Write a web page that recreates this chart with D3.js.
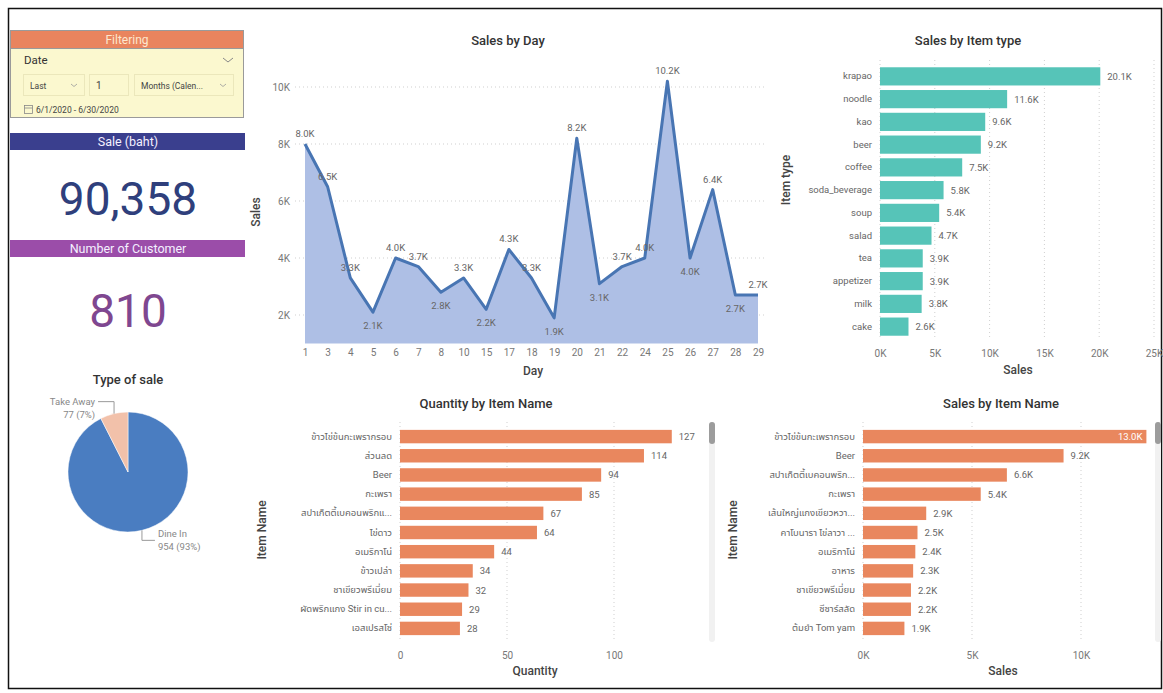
<!DOCTYPE html>
<html>
<head>
<meta charset="utf-8">
<script src="https://cdn.jsdelivr.net/npm/d3@7"></script>
<style>
  body { margin: 0; background: #fff; }
  svg text { font-family: Roboto, "Noto Sans Thai", "Noto Sans", "DejaVu Sans", sans-serif; }
</style>
</head>
<body>
<svg id="dash" width="1163" height="693"></svg>
<script>
// ---- Dashboard data ----
const totalSales = 90358;
const customerCount = 810;

const saleTypes = ["Dine In", "Take Away"];
const saleTypeCounts = [954, 77];

const days = ["1","3","4","5","6","7","8","10","15","17","18","19","20","21","22","24","25","26","27","28","29"];
const daySales = [8000,6500,3300,2100,4000,3700,2800,3300,2200,4300,3300,1900,8200,3100,3700,4000,10200,4000,6400,2700,2700];
const daySalesTicks = [2000,4000,6000,8000,10000];

const itemTypes = ["krapao","noodle","kao","beer","coffee","soda_beverage","soup","salad","tea","appetizer","milk","cake"];
const itemTypeSales = [20100,11600,9600,9200,7500,5800,5400,4700,3900,3900,3800,2600];
const itemTypeTicks = [0,5000,10000,15000,20000,25000];

const qtyItemNames = ["ข้าวไข่ข้นกะเพรากรอบ","ส่วนลด","Beer","กะเพรา","สปาเก็ตตี้เบคอนพริกแ...","ไข่ดาว","อเมริกาโน่","ข้าวเปล่า","ชาเขียวพรีเมี่ยม","ผัดพริกแกง Stir in cu...","เอสเปรสโซ่"];
const qtyValues = [127,114,94,85,67,64,44,34,32,29,28];
const qtyTicks = [0,50,100];

const salesItemNames = ["ข้าวไข่ข้นกะเพรากรอบ","Beer","สปาเก็ตตี้เบคอนพริก...","กะเพรา","เส้นใหญ่แกงเขียวหวา...","คาโบนารา ไข่ลาวา ...","อเมริกาโน่","อาหาร","ชาเขียวพรีเมี่ยม","ซีซาร์สลัด","ต้มยำ Tom yam"];
const salesItemValues = [13000,9200,6600,5400,2900,2500,2400,2300,2200,2200,1900];
const salesItemTicks = [0,5000,10000];

// ---- Helpers ----
const svg = d3.select("#dash");
const kFmt = v => d3.format(".1f")(v / 1000) + "K";
const kTick = v => (v / 1000) + "K";
const TITLE = "#333";
const TICK = "#777";
const LABEL = "#666";
const GRID = "#cfcfcf";

// page frame
svg.append("rect").attr("x", 8.5).attr("y", 8.5).attr("width", 1153).attr("height", 680)
  .attr("fill", "none").attr("stroke", "#111").attr("stroke-width", 1.5);

function title(x, y, text, size) {
  svg.append("text").attr("x", x).attr("y", y).attr("text-anchor", "middle")
    .attr("font-size", size || 13).attr("font-weight", 500).attr("fill", TITLE).text(text);
}

// ---- Filtering panel ----
const fp = svg.append("g");
fp.append("rect").attr("x", 10.5).attr("y", 30.5).attr("width", 233).attr("height", 87)
  .attr("fill", "#fbf8cf").attr("stroke", "#9a9a9a");
fp.append("rect").attr("x", 10.5).attr("y", 30.5).attr("width", 233).attr("height", 18)
  .attr("fill", "#e9845e").attr("stroke", "#9a9a9a");
fp.append("text").attr("x", 127).attr("y", 44).attr("text-anchor", "middle")
  .attr("font-size", 12).attr("fill", "#fde7cf").text("Filtering");
fp.append("text").attr("x", 24).attr("y", 64).attr("font-size", 11.5).attr("fill", "#333").text("Date");
fp.append("path").attr("d", "M223,58 l5,4 l5,-4").attr("fill", "none").attr("stroke", "#888").attr("stroke-width", 1);
const boxes = [[23, 61, "Last"], [89, 39, "1"], [134, 99, "Months (Calen..."]];
boxes.forEach(([bx, bw, t], i) => {
  fp.append("rect").attr("x", bx + 0.5).attr("y", 74.5).attr("width", bw).attr("height", 21)
    .attr("fill", "none").attr("stroke", "#ebe7bb");
  fp.append("text").attr("x", bx + 7).attr("y", 88.5).attr("font-size", i === 1 ? 10 : 8.5)
    .attr("fill", "#444").text(t);
  if (i !== 1) {
    fp.append("path").attr("d", `M${bx + bw - 13},84 l3,2.5 l3,-2.5`).attr("fill", "none")
      .attr("stroke", "#999").attr("stroke-width", 0.8);
  }
});
fp.append("rect").attr("x", 24.5).attr("y", 105.5).attr("width", 8).attr("height", 8)
  .attr("fill", "none").attr("stroke", "#888").attr("stroke-width", 0.8);
fp.append("line").attr("x1", 24.5).attr("x2", 32.5).attr("y1", 108).attr("y2", 108).attr("stroke", "#888").attr("stroke-width", 0.8);
fp.append("text").attr("x", 36).attr("y", 113).attr("font-size", 8.5).attr("fill", "#444")
  .text("6/1/2020 - 6/30/2020");

// ---- KPI cards ----
function kpi(y, h, bandColor, label, value, valueColor, valueY) {
  svg.append("rect").attr("x", 10).attr("y", y).attr("width", 235).attr("height", h).attr("fill", bandColor);
  svg.append("text").attr("x", 128).attr("y", y + h - 4).attr("text-anchor", "middle")
    .attr("font-size", 12.5).attr("fill", "#f4f0ff").text(label);
  svg.append("text").attr("x", 128).attr("y", valueY).attr("text-anchor", "middle")
    .attr("font-size", 46).attr("font-weight", 400).attr("fill", valueColor).text(value);
}
kpi(133, 17, "#3a3f8e", "Sale (baht)", d3.format(",")(totalSales), "#2f3f7c", 215);
kpi(240, 17, "#9b4da9", "Number of Customer", d3.format(",")(customerCount), "#7f4790", 327);

// ---- Type of sale (pie) ----
title(128, 384, "Type of sale", 13);
const pieData = d3.pie().sort(null)(saleTypeCounts);
const pieR = 60, pcx = 128, pcy = 472;
const pieColors = ["#4a7dc1", "#f2c1aa"];
const arc = d3.arc().innerRadius(0).outerRadius(pieR);
const pg = svg.append("g").attr("transform", `translate(${pcx},${pcy})`);
pg.selectAll("path").data(pieData).join("path").attr("d", arc)
  .attr("fill", (d, i) => pieColors[i]).attr("stroke", "#fff").attr("stroke-width", 0.5);
const total = d3.sum(saleTypeCounts);
pieData.forEach((d, i) => {
  const a = (d.startAngle + d.endAngle) / 2;
  const px = Math.sin(a) * pieR, py = -Math.cos(a) * pieR;
  const up = py < 0, right = px > 0;
  const ey = py + (up ? -12 : 10);
  const ex = px + (right ? 13 : -16);
  pg.append("path").attr("d", `M${px},${py} L${px},${ey} L${ex},${ey}`)
    .attr("fill", "none").attr("stroke", "#999").attr("stroke-width", 1);
  const tx = ex + (right ? 3 : -3);
  const anchor = right ? "start" : "end";
  const pct = Math.round(saleTypeCounts[i] / total * 100);
  const t1y = up ? ey + 3 : ey - 3;
  pg.append("text").attr("x", tx).attr("y", t1y).attr("text-anchor", anchor)
    .attr("font-size", 9.5).attr("fill", "#888").text(saleTypes[i]);
  pg.append("text").attr("x", tx).attr("y", t1y + 13).attr("text-anchor", anchor)
    .attr("font-size", 9.5).attr("fill", "#888").text(`${saleTypeCounts[i]} (${pct}%)`);
});

// ---- Sales by Day (area line) ----
title(508, 45, "Sales by Day", 13);
const xDay = d3.scalePoint().domain(days).range([305, 758]);
const yDay = d3.scaleLinear().domain([1000, 10000]).range([343.5, 87]);
const dg = svg.append("g");
daySalesTicks.forEach(t => {
  dg.append("line").attr("x1", 295).attr("x2", 766).attr("y1", yDay(t)).attr("y2", yDay(t))
    .attr("stroke", GRID).attr("stroke-dasharray", "1,3");
});
const yAxisDay = d3.axisLeft(yDay).tickValues(daySalesTicks).tickFormat(kTick).tickSize(0).tickPadding(0);
dg.append("g").attr("transform", "translate(290,0)").call(yAxisDay)
  .call(g => g.select(".domain").remove())
  .call(g => g.selectAll("text").attr("font-size", 10).attr("fill", TICK).attr("font-family", null));
const xAxisDay = d3.axisBottom(xDay).tickSize(0).tickPadding(0);
dg.append("g").attr("transform", "translate(0,349)").call(xAxisDay)
  .call(g => g.select(".domain").remove())
  .call(g => g.selectAll("text").attr("font-size", 10).attr("fill", TICK).attr("font-family", null));
const dayPts = days.map((d, i) => [d, daySales[i]]);
dg.append("path").datum(dayPts)
  .attr("d", d3.area().x(d => xDay(d[0])).y0(yDay(1000)).y1(d => yDay(d[1])))
  .attr("fill", "#aebfe5");
dg.append("path").datum(dayPts)
  .attr("d", d3.line().x(d => xDay(d[0])).y(d => yDay(d[1])))
  .attr("fill", "none").attr("stroke", "#4875b3").attr("stroke-width", 3).attr("stroke-linejoin", "round");
dayPts.forEach((d, i) => {
  const prev = i > 0 ? daySales[i - 1] : -Infinity;
  const next = i < daySales.length - 1 ? daySales[i + 1] : -Infinity;
  const isMin = d[1] <= prev && d[1] <= next && i > 0;
  dg.append("text").attr("x", xDay(d[0])).attr("y", yDay(d[1]) + (isMin ? 17 : -7))
    .attr("text-anchor", "middle").attr("font-size", 9.5).attr("fill", LABEL).text(kFmt(d[1]));
});
dg.append("text").attr("x", 533).attr("y", 375).attr("text-anchor", "middle")
  .attr("font-size", 12).attr("font-weight", 500).attr("fill", "#444").text("Day");
dg.append("text").attr("transform", "translate(260,212) rotate(-90)").attr("text-anchor", "middle")
  .attr("font-size", 12).attr("font-weight", 500).attr("fill", "#444").text("Sales");

// ---- Horizontal bar chart builder ----
function hbar(opts) {
  const g = svg.append("g");
  const x = d3.scaleLinear().domain(opts.xDomain).range(opts.xRange);
  const y = d3.scaleBand().domain(opts.names).range(opts.yRange)
    .paddingInner(opts.padIn).paddingOuter(opts.padOut);
  opts.ticks.forEach(t => {
    g.append("line").attr("x1", x(t)).attr("x2", x(t)).attr("y1", opts.gridY[0]).attr("y2", opts.gridY[1])
      .attr("stroke", GRID).attr("stroke-dasharray", "1,3");
  });
  const xa = d3.axisBottom(x).tickValues(opts.ticks).tickFormat(opts.tickFmt).tickSize(0).tickPadding(0);
  g.append("g").attr("transform", `translate(0,${opts.tickY})`).call(xa)
    .call(s => s.select(".domain").remove())
    .call(s => s.selectAll("text").attr("font-size", 10).attr("fill", TICK).attr("font-family", null));
  const ya = d3.axisLeft(y).tickSize(0).tickPadding(0);
  g.append("g").attr("transform", `translate(${opts.xRange[0] - 8},0)`).call(ya)
    .call(s => s.select(".domain").remove())
    .call(s => s.selectAll("text").attr("font-size", 9.5).attr("fill", LABEL).attr("font-family", null));
  g.selectAll("rect.bar").data(opts.values).join("rect").attr("class", "bar")
    .attr("x", x(0)).attr("y", (d, i) => y(opts.names[i]))
    .attr("width", d => x(d) - x(0)).attr("height", y.bandwidth()).attr("fill", opts.color);
  opts.values.forEach((v, i) => {
    const inside = opts.insideAbove !== undefined && v >= opts.insideAbove;
    g.append("text")
      .attr("x", inside ? x(v) - 4 : x(v) + 7)
      .attr("y", y(opts.names[i]) + y.bandwidth() / 2 + 3.5)
      .attr("text-anchor", inside ? "end" : "start")
      .attr("font-size", 9.5).attr("fill", inside ? "#fff" : LABEL).text(opts.valFmt(v));
  });
  g.append("text").attr("x", opts.xTitle[0]).attr("y", opts.xTitle[1]).attr("text-anchor", "middle")
    .attr("font-size", 12).attr("font-weight", 500).attr("fill", "#444").text(opts.xLabel);
  g.append("text").attr("transform", `translate(${opts.yTitle[0]},${opts.yTitle[1]}) rotate(-90)`)
    .attr("text-anchor", "middle").attr("font-size", 12).attr("font-weight", 500).attr("fill", "#444").text(opts.yLabel);
  if (opts.scrollX !== undefined) {
    g.append("rect").attr("x", opts.scrollX).attr("y", 422).attr("width", 6).attr("height", 220)
      .attr("rx", 3).attr("fill", "#f1f1f1");
    g.append("rect").attr("x", opts.scrollX).attr("y", 422).attr("width", 6).attr("height", 22)
      .attr("rx", 3).attr("fill", "#9c9c9c");
  }
}

// Sales by Item type
title(968, 45, "Sales by Item type", 13);
hbar({
  names: itemTypes, values: itemTypeSales, ticks: itemTypeTicks,
  xDomain: [0, 25000], xRange: [880, 1154], yRange: [65, 338], padIn: 0.2, padOut: 0.1,
  gridY: [60, 340], tickY: 350, tickFmt: kTick, valFmt: kFmt, color: "#56c4b8",
  xLabel: "Sales", xTitle: [1018, 374], yLabel: "Item type", yTitle: [790, 180]
});

// Quantity by Item Name
title(486, 408, "Quantity by Item Name", 13);
hbar({
  names: qtyItemNames, values: qtyValues, ticks: qtyTicks,
  xDomain: [0, 100], xRange: [400, 614], yRange: [427, 638], padIn: 0.3, padOut: 0.15,
  gridY: [422, 642], tickY: 652, tickFmt: d => d, valFmt: d => d, color: "#e9875e",
  xLabel: "Quantity", xTitle: [535, 675], yLabel: "Item Name", yTitle: [266, 530], scrollX: 709
});

// Sales by Item Name
title(1001, 408, "Sales by Item Name", 13);
hbar({
  names: salesItemNames, values: salesItemValues, ticks: salesItemTicks,
  xDomain: [0, 10000], xRange: [863, 1081], yRange: [427, 638], padIn: 0.3, padOut: 0.15,
  gridY: [422, 642], tickY: 652, tickFmt: kTick, valFmt: kFmt, color: "#e9875e", insideAbove: 12000,
  xLabel: "Sales", xTitle: [1003, 675], yLabel: "Item Name", yTitle: [737, 530], scrollX: 1155
});
</script>
</body>
</html>
